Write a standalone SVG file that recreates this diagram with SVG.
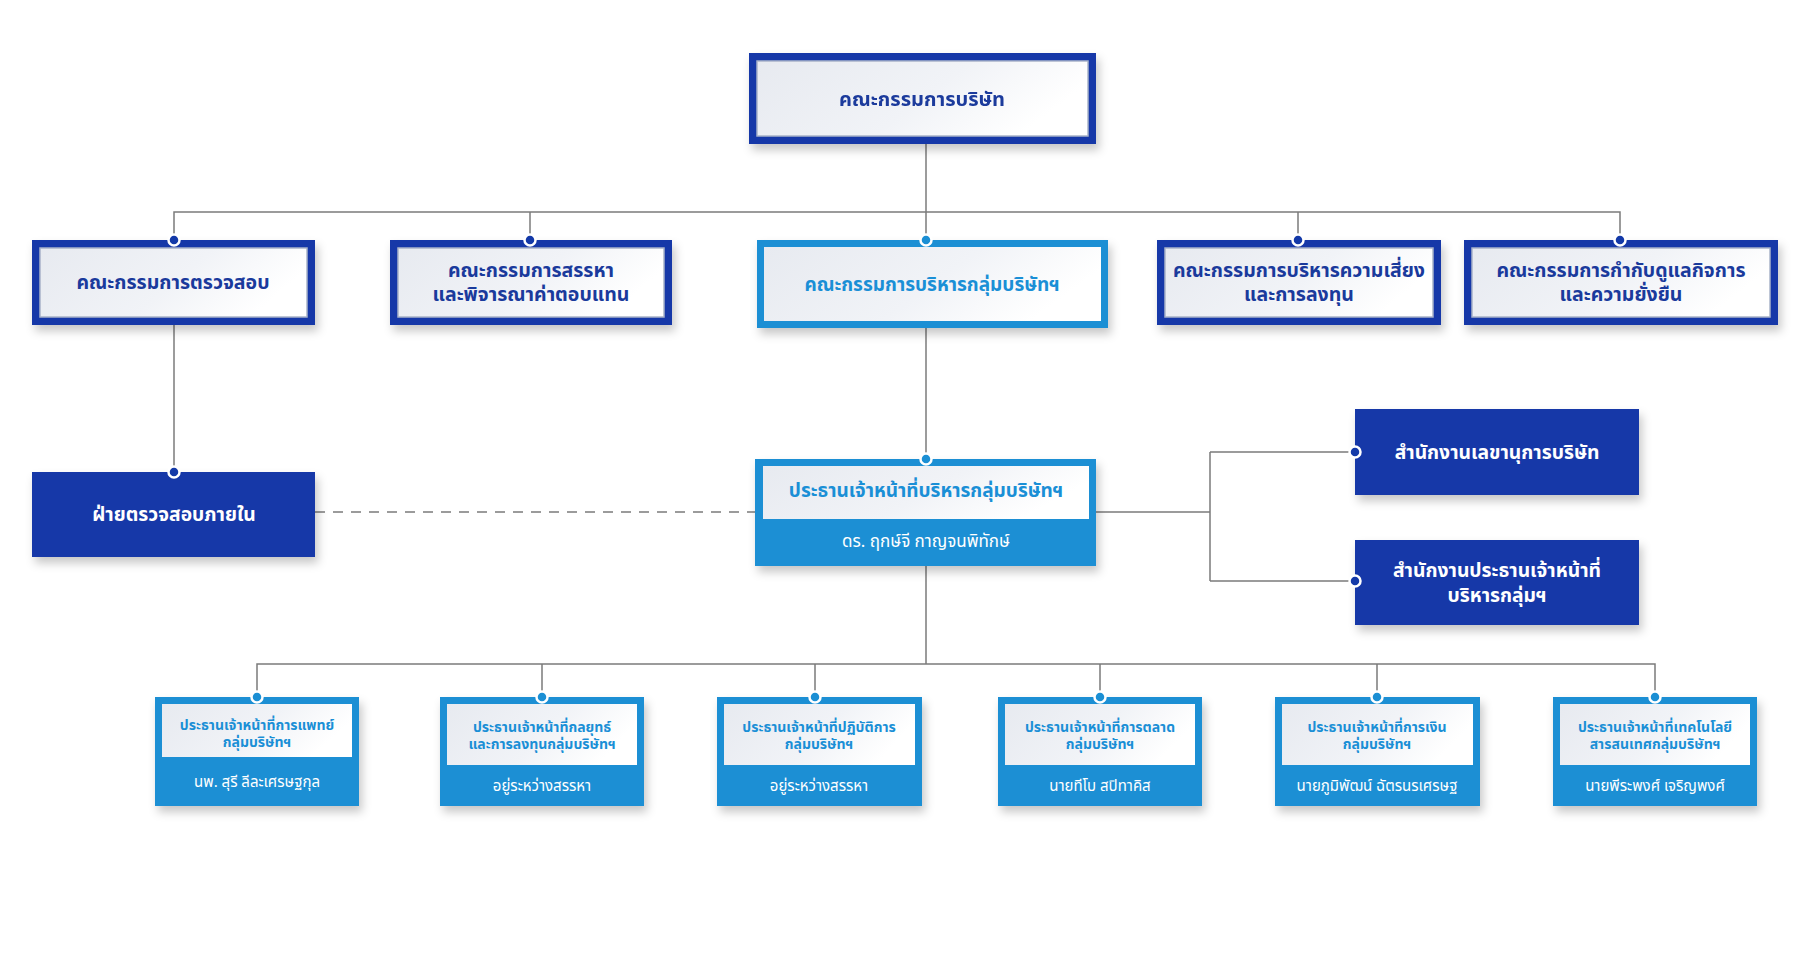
<svg xmlns="http://www.w3.org/2000/svg" width="1816" height="970" viewBox="0 0 1816 970">
<defs>
<linearGradient id="wg" x1="0" y1="0" x2="1" y2="0.3">
<stop offset="0" stop-color="#e7eaf0"/>
<stop offset="0.6" stop-color="#f1f3f7"/>
<stop offset="1" stop-color="#ffffff"/>
</linearGradient>
<filter id="sh" x="-10%" y="-20%" width="125%" height="150%">
<feDropShadow dx="3" dy="6" stdDeviation="5" flood-color="#000" flood-opacity="0.22"/>
</filter>
</defs>
<style>
.dk{fill:#1339a8}
.lb{fill:#1b8fd4}
.in{fill:url(#wg);stroke:#a9b3c9;stroke-width:1.5}
.inl{fill:url(#wg)}
.ln{stroke:#7b7b7b;stroke-width:1.5;fill:none}
.ds{stroke:#7b7b7b;stroke-width:1.5;fill:none;stroke-dasharray:10 8}
.dd{fill:#1339a8;stroke:#fff;stroke-width:2.5}
.dl{fill:#1b8fd4;stroke:#fff;stroke-width:2.5}
text{font-family:"Noto Sans Thai","Noto Sans Thai UI","Noto Sans","DejaVu Sans",sans-serif;text-anchor:middle;font-weight:700}
.td{fill:#1a3a9c;font-size:19.5px}
.tt{fill:#1a3a9c;font-size:20px}
.tl{fill:#1a8fd6;font-size:19px}
.tw{fill:#fff;font-size:19.3px}
.nm{fill:#fff;font-size:17px;font-weight:400}
.st{fill:#1a8fd6;font-size:14px}
.sn{fill:#fff;font-size:15px;font-weight:400}
</style>
<g id="connectors">
<path class="ln" d="M926 144V459"/>
<path class="ln" d="M174 240V212H1620V240"/>
<path class="ln" d="M530 212V240"/>
<path class="ln" d="M1298 212V240"/>
<path class="ln" d="M174 325V472"/>
<path class="ds" d="M315 512H755"/>
<path class="ln" d="M1096 512H1210M1210 452V581M1210 452H1355M1210 581H1355"/>
<path class="ln" d="M926 566V664M257 697V664H1655V697M542 664V697M815 664V697M1100 664V697M1377 664V697"/>
</g>
<g id="board" filter="url(#sh)">
<rect class="dk" x="749" y="53" width="347" height="91"/>
<rect class="in" x="757" y="61" width="331" height="75"/>
<text class="tt" x="922" y="106">คณะกรรมการบริษัท</text>
</g>
<g id="audit-committee">
<rect class="dk" x="32" y="240" width="283" height="85" filter="url(#sh)"/>
<rect class="in" x="40" y="248" width="267" height="69"/>
<text class="td" x="173" y="289">คณะกรรมการตรวจสอบ</text>
<circle class="dd" cx="174" cy="240" r="5.5"/>
</g>
<g id="nomination-committee">
<rect class="dk" x="390" y="240" width="282" height="85" filter="url(#sh)"/>
<rect class="in" x="398" y="248" width="266" height="69"/>
<text class="td" x="531" y="277">คณะกรรมการสรรหา</text>
<text class="td" x="531" y="301">และพิจารณาค่าตอบแทน</text>
<circle class="dd" cx="530" cy="240" r="5.5"/>
</g>
<g id="executive-committee">
<rect class="lb" x="757" y="240" width="351" height="88" filter="url(#sh)"/>
<rect class="inl" x="764" y="247" width="337" height="74"/>
<text class="tl" x="932" y="291">คณะกรรมการบริหารกลุ่มบริษัทฯ</text>
<circle class="dl" cx="926" cy="240" r="5.5"/>
</g>
<g id="risk-committee">
<rect class="dk" x="1157" y="240" width="284" height="85" filter="url(#sh)"/>
<rect class="in" x="1165" y="248" width="268" height="69"/>
<text class="td" x="1299" y="277">คณะกรรมการบริหารความเสี่ยง</text>
<text class="td" x="1299" y="301">และการลงทุน</text>
<circle class="dd" cx="1298" cy="240" r="5.5"/>
</g>
<g id="governance-committee">
<rect class="dk" x="1464" y="240" width="314" height="85" filter="url(#sh)"/>
<rect class="in" x="1472" y="248" width="298" height="69"/>
<text class="td" x="1621" y="277">คณะกรรมการกำกับดูแลกิจการ</text>
<text class="td" x="1621" y="301">และความยั่งยืน</text>
<circle class="dd" cx="1620" cy="240" r="5.5"/>
</g>
<g id="internal-audit">
<rect class="dk" x="32" y="472" width="283" height="85" filter="url(#sh)"/>
<text class="tw" x="174" y="521">ฝ่ายตรวจสอบภายใน</text>
<circle class="dd" cx="174" cy="472" r="5.5"/>
</g>
<g id="ceo">
<rect class="lb" x="755" y="459" width="341" height="107" filter="url(#sh)"/>
<rect class="inl" x="763" y="466" width="326" height="53"/>
<text class="tl" x="926" y="497">ประธานเจ้าหน้าที่บริหารกลุ่มบริษัทฯ</text>
<text class="nm" x="926" y="547">ดร. ฤกษ์จี กาญจนพิทักษ์</text>
<circle class="dl" cx="926" cy="459" r="5.5"/>
</g>
<g id="secretary-office">
<rect class="dk" x="1355" y="409" width="284" height="86" filter="url(#sh)"/>
<text class="tw" x="1497" y="459">สำนักงานเลขานุการบริษัท</text>
<circle class="dd" cx="1355" cy="452" r="5.5"/>
</g>
<g id="ceo-office">
<rect class="dk" x="1355" y="540" width="284" height="85" filter="url(#sh)"/>
<text class="tw" x="1497" y="577">สำนักงานประธานเจ้าหน้าที่</text>
<text class="tw" x="1497" y="602">บริหารกลุ่มฯ</text>
<circle class="dd" cx="1355" cy="581" r="5.5"/>
</g>
<g id="cmo-medical">
<rect class="lb" x="155" y="697" width="204" height="109" filter="url(#sh)"/>
<rect class="inl" x="162" y="704" width="190" height="53"/>
<text class="st" x="257" y="730">ประธานเจ้าหน้าที่การแพทย์</text>
<text class="st" x="257" y="747">กลุ่มบริษัทฯ</text>
<text class="sn" x="257" y="787">นพ. สุรี ลีละเศรษฐกุล</text>
<circle class="dl" cx="257" cy="697" r="5.5"/>
</g>
<g id="cso">
<rect class="lb" x="440" y="697" width="204" height="109" filter="url(#sh)"/>
<rect class="inl" x="447" y="704" width="190" height="61"/>
<text class="st" x="542" y="732">ประธานเจ้าหน้าที่กลยุทธ์</text>
<text class="st" x="542" y="749">และการลงทุนกลุ่มบริษัทฯ</text>
<text class="sn" x="542" y="791">อยู่ระหว่างสรรหา</text>
<circle class="dl" cx="542" cy="697" r="5.5"/>
</g>
<g id="coo">
<rect class="lb" x="717" y="697" width="205" height="109" filter="url(#sh)"/>
<rect class="inl" x="724" y="704" width="191" height="61"/>
<text class="st" x="819" y="732">ประธานเจ้าหน้าที่ปฏิบัติการ</text>
<text class="st" x="819" y="749">กลุ่มบริษัทฯ</text>
<text class="sn" x="819" y="791">อยู่ระหว่างสรรหา</text>
<circle class="dl" cx="815" cy="697" r="5.5"/>
</g>
<g id="cmo">
<rect class="lb" x="998" y="697" width="204" height="109" filter="url(#sh)"/>
<rect class="inl" x="1005" y="704" width="190" height="61"/>
<text class="st" x="1100" y="732">ประธานเจ้าหน้าที่การตลาด</text>
<text class="st" x="1100" y="749">กลุ่มบริษัทฯ</text>
<text class="sn" x="1100" y="791">นายทีโบ สปิทาคิส</text>
<circle class="dl" cx="1100" cy="697" r="5.5"/>
</g>
<g id="cfo">
<rect class="lb" x="1275" y="697" width="205" height="109" filter="url(#sh)"/>
<rect class="inl" x="1282" y="704" width="191" height="61"/>
<text class="st" x="1377" y="732">ประธานเจ้าหน้าที่การเงิน</text>
<text class="st" x="1377" y="749">กลุ่มบริษัทฯ</text>
<text class="sn" x="1377" y="791">นายภูมิพัฒน์ ฉัตรนรเศรษฐ</text>
<circle class="dl" cx="1377" cy="697" r="5.5"/>
</g>
<g id="cio">
<rect class="lb" x="1553" y="697" width="204" height="109" filter="url(#sh)"/>
<rect class="inl" x="1560" y="704" width="190" height="61"/>
<text class="st" x="1655" y="732">ประธานเจ้าหน้าที่เทคโนโลยี</text>
<text class="st" x="1655" y="749">สารสนเทศกลุ่มบริษัทฯ</text>
<text class="sn" x="1655" y="791">นายพีระพงศ์ เจริญพงศ์</text>
<circle class="dl" cx="1655" cy="697" r="5.5"/>
</g>
</svg>
